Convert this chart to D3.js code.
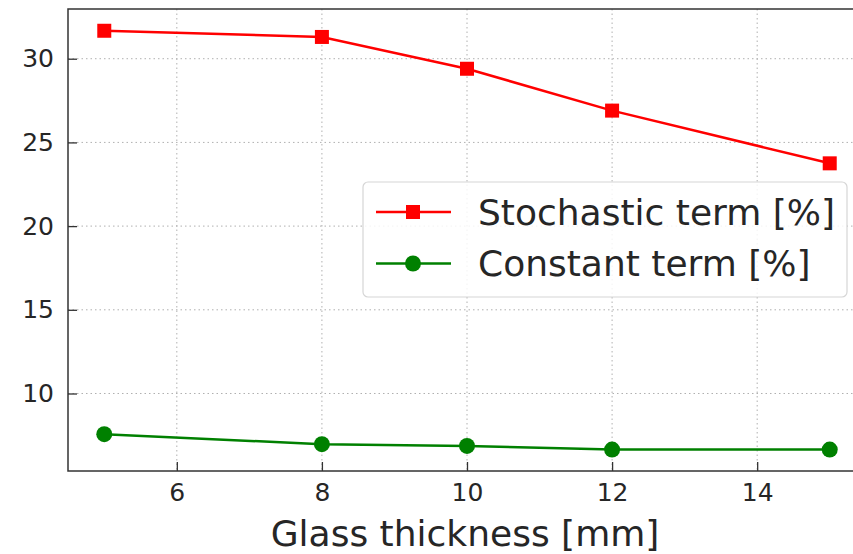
<!DOCTYPE html>
<html>
<head>
<meta charset="utf-8">
<script src="https://cdn.jsdelivr.net/npm/d3@7"></script>
<style>
  body { margin: 0; background: #fff; }
  svg { display: block; font-family: "DejaVu Sans", sans-serif; }
</style>
</head>
<body>
<svg id="chart" width="853" height="554"></svg>
<script>
// data
var thickness = [5, 8, 10, 12, 15];
var stochastic = [31.67, 31.3, 29.4, 26.9, 23.75];
var constant = [7.57, 6.97, 6.87, 6.65, 6.65];
var xTicks = [6, 8, 10, 12, 14];
var yTicks = [10, 15, 20, 25, 30];
var seriesNames = ["Stochastic term [%]", "Constant term [%]"];

var svg = d3.select("#chart");
var margin = {top: 9, left: 68, bottom: 83};
var width = 798, height = 554 - margin.top - margin.bottom;

var x = d3.scaleLinear().domain([4.5, 15.5]).range([0, width]);
var y = d3.scaleLinear().domain([5.37, 32.97]).range([height, 0]);

var g = svg.append("g").attr("transform", "translate(" + margin.left + "," + margin.top + ")");

// grid
g.append("g").selectAll("line").data(xTicks).join("line")
	.attr("x1", function(d) { return x(d); }).attr("x2", function(d) { return x(d); })
	.attr("y1", 0).attr("y2", height)
	.style("stroke", "#b0b0b0").style("stroke-width", 1).style("stroke-dasharray", "1.5,3");
g.append("g").selectAll("line").data(yTicks).join("line")
	.attr("y1", function(d) { return y(d); }).attr("y2", function(d) { return y(d); })
	.attr("x1", 0).attr("x2", width)
	.style("stroke", "#b0b0b0").style("stroke-width", 1).style("stroke-dasharray", "1.5,3");

// axes, ticks pointing inward
var xAxis = g.append("g").attr("transform", "translate(0," + height + ")")
	.call(d3.axisBottom(x).tickValues(xTicks).tickSizeInner(-9).tickSizeOuter(0).tickPadding(12));
var yAxis = g.append("g")
	.call(d3.axisLeft(y).tickValues(yTicks).tickSizeInner(-9).tickSizeOuter(0).tickPadding(14));
[xAxis, yAxis].forEach(function(a) {
	a.select(".domain").remove();
	a.selectAll(".tick line").style("stroke", "#333").style("stroke-width", 1.3);
	a.selectAll(".tick text").style("font-size", "25px").style("fill", "#262626").style("font-family", "DejaVu Sans");
});

// spines
g.append("rect").attr("x", 0).attr("y", 0).attr("width", width).attr("height", height)
	.style("fill", "none").style("stroke", "#333").style("stroke-width", 1.5);

var line = d3.line().x(function(d) { return x(d[0]); }).y(function(d) { return y(d[1]); });

function pairs(vals) { return thickness.map(function(t, i) { return [t, vals[i]]; }); }

var redData = pairs(stochastic), greenData = pairs(constant);

g.append("path").datum(redData).attr("d", line)
	.style("fill", "none").style("stroke", "#ff0000").style("stroke-width", 2.5);
g.append("g").selectAll("rect").data(redData).join("rect")
	.attr("x", function(d) { return x(d[0]) - 7; }).attr("y", function(d) { return y(d[1]) - 7; })
	.attr("width", 14).attr("height", 14).style("fill", "#ff0000");

g.append("path").datum(greenData).attr("d", line)
	.style("fill", "none").style("stroke", "#008000").style("stroke-width", 2.5);
g.append("g").selectAll("circle").data(greenData).join("circle")
	.attr("cx", function(d) { return x(d[0]); }).attr("cy", function(d) { return y(d[1]); })
	.attr("r", 8).style("fill", "#008000");

// x label
svg.append("text").attr("x", 465).attr("y", 546).attr("text-anchor", "middle")
	.style("font-size", "36px").style("fill", "#262626").text("Glass thickness [mm]");

// legend
var leg = svg.append("g").attr("transform", "translate(363,182)");
leg.append("rect").attr("width", 484).attr("height", 115).attr("rx", 5)
	.style("fill", "rgba(255,255,255,0.85)").style("stroke", "#d6d6d6").style("stroke-width", 1.2);
var colors = ["#ff0000", "#008000"];
seriesNames.forEach(function(name, i) {
	var cy = 30 + i * 51.5;
	leg.append("line").attr("x1", 13).attr("x2", 88).attr("y1", cy).attr("y2", cy)
		.style("stroke", colors[i]).style("stroke-width", 2.5);
	if (i === 0) {
		leg.append("rect").attr("x", 43).attr("y", cy - 7).attr("width", 14).attr("height", 14).style("fill", colors[i]);
	} else {
		leg.append("circle").attr("cx", 50).attr("cy", cy).attr("r", 8).style("fill", colors[i]);
	}
	leg.append("text").attr("x", 115).attr("y", cy).attr("dy", "0.36em")
		.style("font-size", "36px").style("fill", "#262626").text(name);
});
</script>
</body>
</html>
